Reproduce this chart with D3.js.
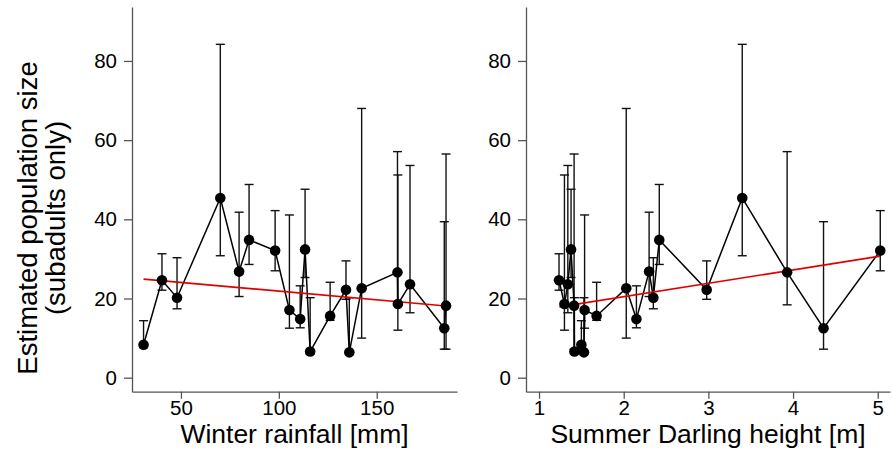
<!DOCTYPE html>
<html>
<head>
<meta charset="utf-8">
<script src="https://cdnjs.cloudflare.com/ajax/libs/d3/7.8.5/d3.min.js"></script>
<style>
  body { margin: 0; background: #fff; }
  svg { display: block; font-family: "Liberation Sans", Arial, sans-serif; }
</style>
</head>
<body>
<svg id="chart" width="892" height="452"></svg>
<script>
(function () {
    'use strict';

    // one entry per survey
    var winterRainfall = [30.9, 40.3, 48.0, 70.1, 79.7, 84.8, 98.1, 105.4, 110.9, 113.4,
                          116.0, 126.2, 134.3, 136.0, 142.3, 160.6, 160.8, 167.0, 185.4, 184.5];
    var darlingHeight  = [1.50, 1.236, 2.35, 3.40, 2.30, 2.42, 5.03, 1.538, 2.15, 1.378,
                          1.418, 1.68, 2.98, 1.530, 2.03, 3.93, 1.30, 1.34, 1.414, 4.36];
    var popSize        = [8.3, 24.6, 20.2, 45.4, 26.8, 34.8, 32.1, 17.1, 14.8, 32.4,
                          6.6, 15.6, 22.2, 6.4, 22.6, 26.6, 18.6, 23.6, 18.2, 12.5];
    var ciLower        = [7.6, 22.1, 17.4, 30.8, 20.5, 28.6, 27.0, 12.5, 12.6, 25.3,
                          6.0, 14.5, 19.8, 5.8, 10.0, 18.4, 12.0, 16.4, 7.2, 7.2];
    var ciUpper        = [14.4, 31.3, 30.3, 84.2, 41.8, 48.8, 42.2, 41.1, 23.2, 47.6,
                          20.2, 24.1, 29.5, 20.2, 68.0, 57.1, 51.2, 53.6, 56.5, 39.4];

    // fitted trend lines (end points)
    var rainFitX = [30.9, 185.4];
    var rainFitY = [24.9, 18.1];
    var heightFitX = [1.24, 5.03];
    var heightFitY = [17.9, 30.7];

    var yTicks = [0, 20, 40, 60, 80];
    var rainTicks = [50, 100, 150];
    var heightTicks = [1, 2, 3, 4, 5];

    var svg = d3.select("#chart");

    var y = d3.scaleLinear().domain([-3.54, 93.63]).range([391.7, 7]);

    function panel(xVals, xDomain, xRange, ticks, title, fitX, fitY) {
        var x = d3.scaleLinear().domain(xDomain).range(xRange);
        var g = svg.append("g");

        var rows = xVals.map(function (v, i) {
            return { x: v, n: popSize[i], lo: ciLower[i], hi: ciUpper[i] };
        });
        var sorted = rows.slice().sort(function (a, b) { return a.x - b.x; });

        // axes
        var yAxis = g.append("g")
            .attr("transform", "translate(" + xRange[0] + ",0)")
            .call(d3.axisLeft(y).tickValues(yTicks).tickFormat(d3.format("d"))
                .tickSize(8).tickPadding(7).tickSizeOuter(0));
        var xAxis = g.append("g")
            .attr("transform", "translate(0," + y.range()[0] + ")")
            .call(d3.axisBottom(x).tickValues(ticks).tickFormat(d3.format("d"))
                .tickSize(7).tickPadding(2).tickSizeOuter(0));
        [yAxis, xAxis].forEach(function (a) {
            a.select(".domain").style("stroke", "#555").style("stroke-width", "1.3px");
            a.selectAll(".tick line").style("stroke", "#555").style("stroke-width", "1.3px");
            a.selectAll(".tick text")
                .style("font-size", "20.5px")
                .style("font-family", "Liberation Sans, Arial, sans-serif")
                .style("fill", "#000");
        });

        // error bars
        var bars = g.append("g").selectAll("g")
            .data(rows)
            .enter()
            .append("g");
        bars.append("line")
            .attr("x1", function (d) { return x(d.x); })
            .attr("x2", function (d) { return x(d.x); })
            .attr("y1", function (d) { return y(d.lo); })
            .attr("y2", function (d) { return y(d.hi); })
            .style("stroke", "#111")
            .style("stroke-width", "1.4px");
        bars.append("line")
            .attr("x1", function (d) { return x(d.x) - 4.5; })
            .attr("x2", function (d) { return x(d.x) + 4.5; })
            .attr("y1", function (d) { return y(d.hi); })
            .attr("y2", function (d) { return y(d.hi); })
            .style("stroke", "#111")
            .style("stroke-width", "1.4px");
        bars.append("line")
            .attr("x1", function (d) { return x(d.x) - 4.5; })
            .attr("x2", function (d) { return x(d.x) + 4.5; })
            .attr("y1", function (d) { return y(d.lo); })
            .attr("y2", function (d) { return y(d.lo); })
            .style("stroke", "#111")
            .style("stroke-width", "1.4px");

        // connecting line
        g.append("path")
            .datum(sorted)
            .attr("d", d3.line().x(function (d) { return x(d.x); }).y(function (d) { return y(d.n); }))
            .style("fill", "none")
            .style("stroke", "#000")
            .style("stroke-width", "1.5px");

        // trend
        g.append("line")
            .attr("x1", x(fitX[0]))
            .attr("y1", y(fitY[0]))
            .attr("x2", x(fitX[1]))
            .attr("y2", y(fitY[1]))
            .style("stroke", "#e00000")
            .style("stroke-width", "1.7px");

        g.append("g").selectAll("circle")
            .data(rows)
            .enter()
            .append("circle")
            .attr("cx", function (d) { return x(d.x); })
            .attr("cy", function (d) { return y(d.n); })
            .attr("r", 5.3)
            .style("fill", "#000");

        g.append("text")
            .attr("x", (xRange[0] + xRange[1]) / 2)
            .attr("y", 443)
            .attr("text-anchor", "middle")
            .style("font-size", "26.5px")
            .text(title);
    }

    panel(winterRainfall, [25, 191], [132, 457], rainTicks, "Winter rainfall [mm]", rainFitX, rainFitY);
    panel(darlingHeight, [0.846, 5.145], [526, 890], heightTicks, "Summer Darling height [m]", heightFitX, heightFitY);

    svg.append("text")
        .attr("transform", "translate(36.5,218) rotate(-90)")
        .attr("text-anchor", "middle")
        .style("font-size", "27.5px")
        .text("Estimated population size");
    svg.append("text")
        .attr("transform", "translate(65,218) rotate(-90)")
        .attr("text-anchor", "middle")
        .style("font-size", "27.5px")
        .text("(subadults only)");
}());
</script>
</body>
</html>
